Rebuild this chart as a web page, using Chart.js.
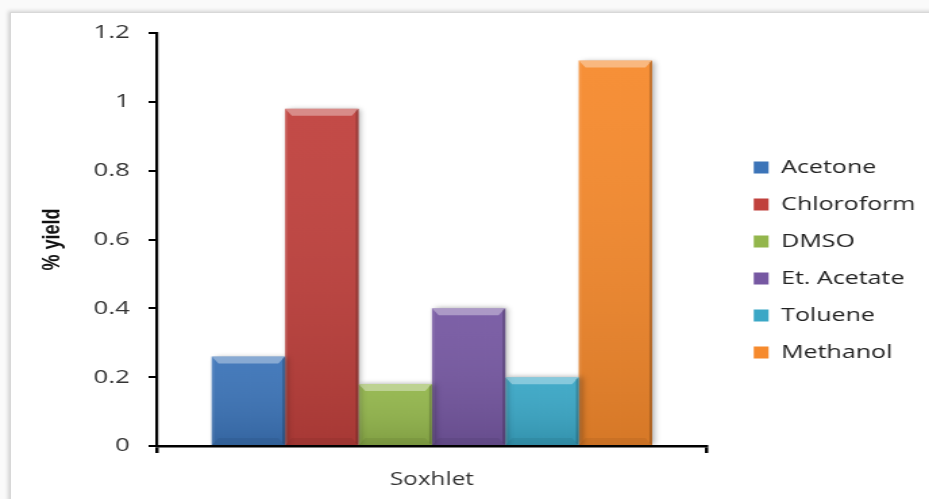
<!DOCTYPE html>
<html>
<head>
<meta charset="utf-8">
<script src="https://cdn.jsdelivr.net/npm/chart.js@4/dist/chart.umd.min.js"></script>
<style>
  html, body { margin: 0; padding: 0; background: #fafafa; overflow: hidden; }
  #frame {
    position: absolute; left: 10px; top: 12px; width: 960px; height: 520px;
    background: #fff; border: 1px solid #d8d8d8;
    box-shadow: -2px -1px 4px rgba(0, 0, 0, 0.16);
  }
  #chart { position: absolute; left: 0; top: 0; }
</style>
</head>
<body>
<div id="frame"></div>
<!-- drawn at 688px wide, then stretched out to the page width -->
<canvas id="chart" width="688" height="499" style="width:929px;height:499px"></canvas>
<script>
var categories = ['Soxhlet'];
var solvents = ['Acetone', 'Chloroform', 'DMSO', 'Et. Acetate', 'Toluene', 'Methanol'];
var yieldValues = [0.26, 0.98, 0.18, 0.40, 0.20, 1.12];
var barColors = ['#3c74b8', '#c0413d', '#93b64c', '#7658a2', '#3aa7c6', '#f68a2d'];
var yTicks = [0, 0.2, 0.4, 0.6, 0.8, 1, 1.2];

var datasets = solvents.map(function(name, i) {
    return {
        label: name,
        data: [yieldValues[i]],
        backgroundColor: barColors[i],
        borderWidth: 0,
        yAxisID: 'y'
    };
});

function fillPoly(ctx, pts, style) {
    ctx.beginPath();
    ctx.moveTo(pts[0][0], pts[0][1]);
    for (var k = 1; k < pts.length; k++) ctx.lineTo(pts[k][0], pts[k][1]);
    ctx.closePath();
    ctx.fillStyle = style;
    ctx.fill();
}

// soft drop shadow under the bars, then a bevelled edge on top of each one
var bevelPlugin = {
    id: 'bevel',
    beforeDatasetsDraw: function(chart) {
        var ctx = chart.ctx;
        ctx.save();
        ctx.shadowColor = 'rgba(0,0,0,0.35)';
        ctx.shadowBlur = 5;
        ctx.shadowOffsetX = 2;
        ctx.shadowOffsetY = 0;
    },
    afterDatasetsDraw: function(chart) {
        var ctx = chart.ctx;
        ctx.restore();
        chart.data.datasets.forEach(function(ds, i) {
            chart.getDatasetMeta(i).data.forEach(function(bar) {
                var p = bar.getProps(['x', 'y', 'base', 'width'], true);
                var l = p.x - p.width / 2, r = p.x + p.width / 2, t = p.y, b = p.base;
                var bx = 5, by = 7;
                var g = ctx.createLinearGradient(0, t, 0, b);
                g.addColorStop(0, 'rgba(255,255,255,0.05)');
                g.addColorStop(1, 'rgba(0,0,0,0.13)');
                ctx.fillStyle = g;
                ctx.fillRect(l, t, r - l, b - t);
                fillPoly(ctx, [[l, t], [r, t], [r - bx, t + by], [l + bx, t + by]], 'rgba(255,255,255,0.36)');
                fillPoly(ctx, [[r, t], [r, b], [r - 2, b - 2], [r - 2, t + 2]], 'rgba(0,0,0,0.2)');
                fillPoly(ctx, [[l, t], [l + 2, t + 2], [l + 2, b - 2], [l, b]], 'rgba(255,255,255,0.08)');
                fillPoly(ctx, [[l, b], [l + bx, b - by], [r - bx, b - by], [r, b]], 'rgba(0,0,0,0.06)');
            });
        });
    }
};

var ctx = document.getElementById('chart').getContext('2d');
var myChart = new Chart(ctx, {
    type: 'bar',
    data: {
        labels: categories,
        datasets: datasets
    },
    options: {
        responsive: false,
        animation: false,
        events: [],
        layout: {
            padding: { left: 24, top: 33, right: 0, bottom: 12 }
        },
        datasets: {
            bar: { categoryPercentage: 0.8, barPercentage: 1 }
        },
        plugins: {
            legend: {
                position: 'right',
                maxWidth: 180,
                labels: {
                    boxWidth: 11,
                    boxHeight: 12,
                    padding: 18.5,
                    color: '#222',
                    font: { family: 'Open Sans', size: 18.5 }
                }
            },
            tooltip: { enabled: false }
        },
        scales: {
            x: {
                grid: { drawOnChartArea: false, color: '#000', tickLength: 7, lineWidth: 2.5, z: 1 },
                border: { color: '#000', width: 2.5, z: 1 },
                ticks: { color: '#333', padding: 16, font: { family: 'Open Sans', size: 18 } },
                afterFit: function(scale) { scale.height = 41; }
            },
            y: {
                min: 0,
                max: 1.2,
                grid: { drawOnChartArea: false, color: '#000', tickLength: 6, lineWidth: 2 },
                border: { color: '#000', width: 2.2 },
                ticks: {
                    color: '#333',
                    padding: 14,
                    font: { family: 'Open Sans', size: 19 },
                    callback: function(v) { return String(v); }
                },
                afterBuildTicks: function(scale) {
                    scale.ticks = yTicks.map(function(v) { return { value: v }; });
                },
                title: {
                    display: true,
                    text: '% yield',
                    color: '#111',
                    font: { family: 'Liberation Sans', size: 18, weight: 'bold' }
                },
                afterFit: function(scale) { scale.width = 92; }
            },
            // empty axis that keeps the legend clear of the plot
            gap: {
                position: 'right',
                display: true,
                grid: { display: false },
                border: { display: false },
                ticks: { display: false },
                afterFit: function(scale) { scale.width = 16; }
            }
        }
    },
    plugins: [bevelPlugin]
});
</script>
</body>
</html>
